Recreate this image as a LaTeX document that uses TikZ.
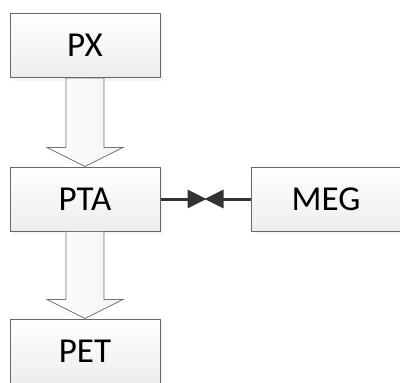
\documentclass[tikz,border=0pt]{standalone}
\usepackage{fontspec}
\setmainfont{Carlito}
\usepackage{tikz}
\usetikzlibrary{calc,shadows,arrows.meta}

\tikzset{
  box/.style={draw=black!60, line width=1pt, top color=white, bottom color=black!7,
    minimum width=150pt, minimum height=64pt, inner sep=0pt,
    font=\fontsize{35}{40}\selectfont,
    drop shadow={shadow xshift=3pt, shadow yshift=-3pt, fill=black!8}},
  fat/.style={draw=black!55, line width=0.8pt, left color=white, right color=black!5},
  link/.style={line width=3pt, black!80, -{Triangle[length=19pt,width=18pt]}, shorten >=-1pt}
}

\begin{document}
\begin{tikzpicture}[x=1pt,y=-1pt]
\useasboundingbox (0,0) rectangle (400,383);

\node[box](1) at(85,45.5){PX};
\node[box](2) at(85,199){PTA};
\node[box](3) at(85,351){PET};
\node[box](4) at(326,199){MEG};

% block arrows
\draw[fat] ($(1.south)+(-19,0)$)--($(2.north)+(-19,-19)$)--($(2.north)+(-38,-19)$)
  --(2.north)--($(2.north)+(38,-19)$)--($(2.north)+(19,-19)$)--($(1.south)+(19,0)$)--cycle;
\draw[fat] ($(2.south)+(-19,0)$)--($(3.north)+(-19,-19)$)--($(3.north)+(-38,-19)$)
  --(3.north)--($(3.north)+(38,-19)$)--($(3.north)+(19,-19)$)--($(2.south)+(19,0)$)--cycle;

% valve link
\coordinate(5) at ($(2.east)!0.5!(4.west)$);
\draw[link](2.east)--(5);
\draw[link](4.west)--(5);
\end{tikzpicture}
\end{document}
